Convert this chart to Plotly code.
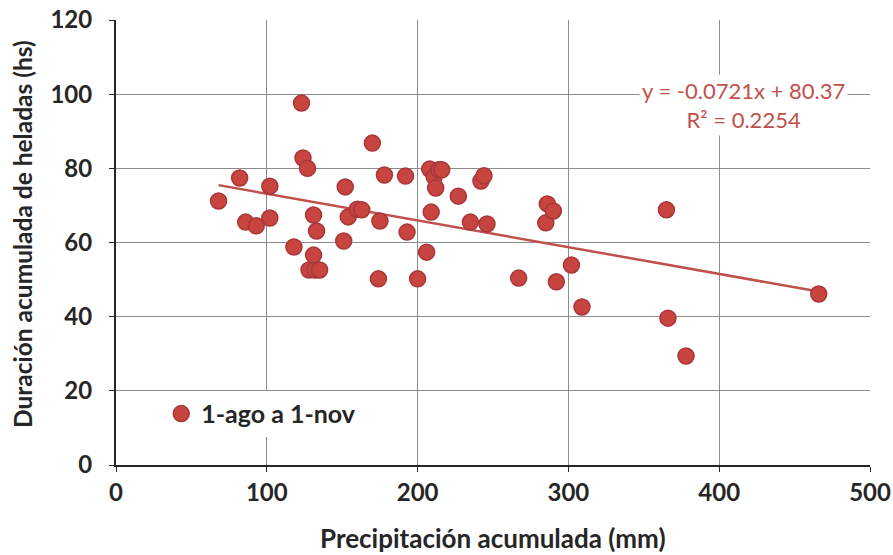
import plotly.graph_objects as go
import numpy as np

# Data
precip_mm = [68, 82, 86, 93, 102, 102, 118, 123, 124, 127, 128, 132, 131, 131, 133, 135,
             152, 151, 154, 160, 163, 170, 174, 175, 178, 192, 193, 200, 206, 208, 209,
             211, 212, 214, 216, 227, 235, 242, 244, 246, 267, 285, 286, 290, 292, 302,
             309, 365, 366, 378, 466]
helada_hs = [71.2, 77.4, 65.5, 64.5, 75.2, 66.6, 58.8, 97.6, 82.8, 80.0, 52.6, 52.6, 56.6,
             67.4, 63.1, 52.6, 75.0, 60.4, 66.9, 69.0, 68.8, 86.8, 50.2, 65.8, 78.2, 77.9,
             62.8, 50.2, 57.4, 79.8, 68.2, 77.7, 74.7, 79.6, 79.6, 72.5, 65.5, 76.6, 78.0,
             65.0, 50.4, 65.3, 70.4, 68.5, 49.4, 53.9, 42.6, 68.8, 39.6, 29.4, 46.1]
series_name = "1-ago a 1-nov"
x_title = "Precipitación acumulada (mm)"
y_title = "Duración acumulada de heladas (hs)"
trend_slope = -0.0721
trend_intercept = 80.37
r_squared = 0.2254
x_ticks = [0, 100, 200, 300, 400, 500]
y_ticks = [0, 20, 40, 60, 80, 100, 120]

FONT = "Lato"
TXT = "#262626"
W, H = 893, 555
ML, MR, MT, MB = 116, 23, 20, 90

tx = np.array([min(precip_mm), max(precip_mm)])
ty = trend_slope * tx + trend_intercept

fig = go.Figure()
fig.add_trace(go.Scatter(
    x=tx, y=ty, mode="lines", showlegend=False, hoverinfo="skip",
    line=dict(color="#C0504D", width=2.5)))
fig.add_trace(go.Scatter(
    x=precip_mm, y=helada_hs, mode="markers", name=series_name,
    marker=dict(size=16, color="#C8453F", line=dict(color="#A8363A", width=1.5))))

fig.add_annotation(
    x=416, y=97, xref="x", yref="y", showarrow=False,
    text=f"y = {trend_slope}x + {trend_intercept}<br>R² = {r_squared}",
    align="center", bgcolor="white", borderpad=2,
    font=dict(family=FONT, size=22, color="#C0504D"))

# axis titles placed as paper annotations
pw, ph = W - ML - MR, H - MT - MB
fig.add_annotation(
    x=(493 - ML) / pw, y=-(538 - (H - MB)) / ph, xref="paper", yref="paper",
    showarrow=False, xanchor="center", yanchor="middle", text=x_title,
    font=dict(family=FONT, size=26, color=TXT, weight="bold"))
fig.add_annotation(
    x=-(ML - 22) / pw, y=((H - MB) - 234) / ph, xref="paper", yref="paper",
    showarrow=False, xanchor="center", yanchor="middle", textangle=-90, text=y_title,
    font=dict(family=FONT, size=24.5, color=TXT, weight="bold"))

fig.update_layout(
    width=W, height=H,
    margin=dict(l=ML, r=MR, t=MT, b=MB, autoexpand=False),
    paper_bgcolor="white", plot_bgcolor="white",
    font=dict(family=FONT, color=TXT),
    legend=dict(x=0.06, y=0.115, xanchor="left", yanchor="middle",
                bgcolor="white", font=dict(family=FONT, size=25, color=TXT, weight="bold"),
                itemsizing="trace"),
    xaxis=dict(range=[0, 500], tickvals=x_ticks, showgrid=True, gridcolor="#8C8C8C", gridwidth=1,
               showline=True, linecolor="#262626", linewidth=2, mirror=False, automargin=False,
               ticks="outside", ticklen=5, tickcolor="#262626", zeroline=False,
               tickfont=dict(family=FONT, size=24, color=TXT, weight="bold")),
    yaxis=dict(range=[0, 120], tickvals=y_ticks, showgrid=True, gridcolor="#8C8C8C", gridwidth=1,
               showline=True, linecolor="#262626", linewidth=2, mirror=False, automargin=False,
               ticks="outside", ticklen=5, tickcolor="#262626", zeroline=False,
               ticklabelstandoff=12,
               tickfont=dict(family=FONT, size=24, color=TXT, weight="bold")),
)
fig.write_html("out.html")
